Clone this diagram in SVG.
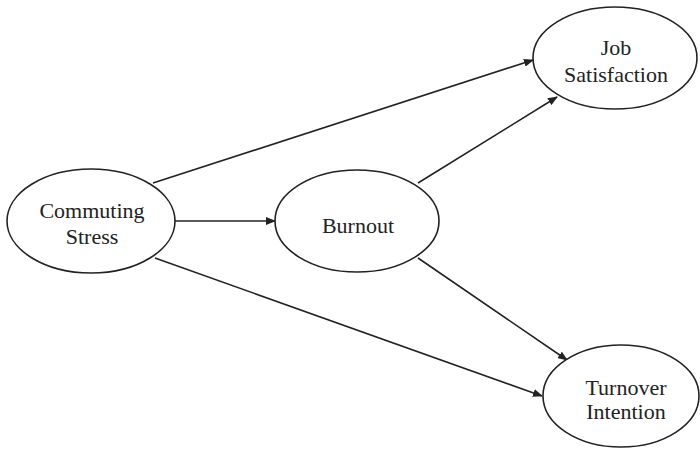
<svg xmlns="http://www.w3.org/2000/svg" width="700" height="450" viewBox="0 0 700 450">
<style>
.n{fill:#fff;stroke:#222;stroke-width:1.6}
.t{font-family:"Liberation Serif","Times New Roman",serif;font-size:22px;fill:#222;text-anchor:middle}
.c{stroke:#222;stroke-width:1.6;fill:none;marker-end:url(#ah)}
</style>
<defs>
<marker id="ah" markerWidth="10" markerHeight="8" refX="9" refY="4" orient="auto" markerUnits="userSpaceOnUse">
<path d="M0,0 L10,4 L0,8 Z" fill="#222"/>
</marker>
</defs>
<rect width="700" height="450" fill="#fff"/>
<g id="connectors">
<line class="c" x1="153" y1="183" x2="533" y2="60"/>
<line class="c" x1="175" y1="221" x2="275" y2="221"/>
<line class="c" x1="155" y1="258" x2="542" y2="396"/>
<line class="c" x1="418" y1="183" x2="557" y2="97"/>
<line class="c" x1="418" y1="258" x2="567" y2="360"/>
</g>
<g id="commuting-stress">
<ellipse class="n" cx="91" cy="221" rx="84" ry="52"/>
<text class="t" x="92" y="218">Commuting</text>
<text class="t" x="92" y="244">Stress</text>
</g>
<g id="burnout">
<ellipse class="n" cx="357" cy="221" rx="82" ry="51"/>
<text class="t" x="358" y="233">Burnout</text>
</g>
<g id="job-satisfaction">
<ellipse class="n" cx="615" cy="58" rx="82" ry="51"/>
<text class="t" x="616" y="55">Job</text>
<text class="t" x="616" y="82">Satisfaction</text>
</g>
<g id="turnover-intention">
<ellipse class="n" cx="621" cy="396" rx="78" ry="51"/>
<text class="t" x="626" y="395">Turnover</text>
<text class="t" x="626" y="419">Intention</text>
</g>
</svg>
